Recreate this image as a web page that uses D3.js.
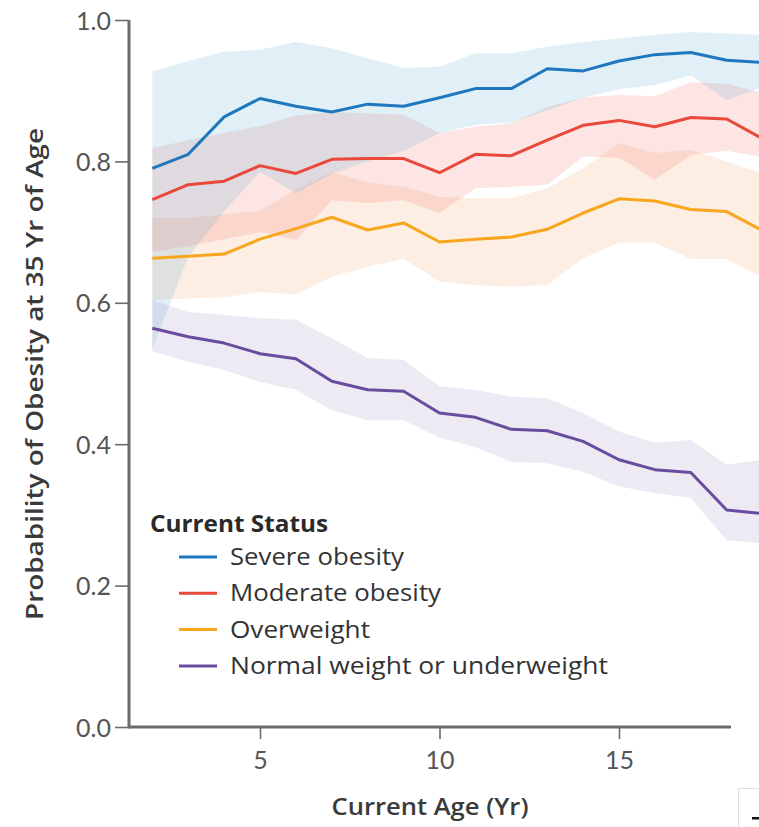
<!DOCTYPE html>
<html>
<head>
<meta charset="utf-8">
<script src="https://cdn.jsdelivr.net/npm/d3@7"></script>
<style>
  body { margin: 0; background: #fff; }
  #chart text { font-family: Lato, "Open Sans", sans-serif; }
  #chart text.wide { font-family: "Open Sans", Lato, sans-serif; }
</style>
</head>
<body>
<svg id="chart" width="759" height="827"></svg>
<script>
// ages on the x axis
const ages = [2, 3, 4, 5, 6, 7, 8, 9, 10, 11, 12, 13, 14, 15, 16, 17, 18, 19];

// severe obesity
const severe   = [0.790, 0.810, 0.863, 0.889, 0.878, 0.870, 0.881, 0.878, 0.890, 0.903, 0.903, 0.931, 0.928, 0.942, 0.951, 0.954, 0.943, 0.940];
const severeLo = [0.535, 0.665, 0.730, 0.785, 0.755, 0.783, 0.800, 0.815, 0.840, 0.852, 0.855, 0.872, 0.890, 0.902, 0.908, 0.922, 0.887, 0.905];
const severeHi = [0.927, 0.942, 0.955, 0.958, 0.969, 0.960, 0.946, 0.932, 0.934, 0.953, 0.953, 0.962, 0.969, 0.974, 0.979, 0.983, 0.981, 0.979];

// moderate obesity
const moderate   = [0.746, 0.767, 0.772, 0.794, 0.783, 0.803, 0.804, 0.804, 0.784, 0.810, 0.808, 0.830, 0.851, 0.858, 0.849, 0.862, 0.860, 0.832];
const moderateLo = [0.672, 0.680, 0.690, 0.700, 0.689, 0.745, 0.741, 0.745, 0.727, 0.762, 0.764, 0.767, 0.807, 0.805, 0.774, 0.809, 0.815, 0.806];
const moderateHi = [0.819, 0.830, 0.840, 0.850, 0.865, 0.870, 0.868, 0.866, 0.840, 0.849, 0.854, 0.877, 0.890, 0.894, 0.892, 0.912, 0.910, 0.897];

// overweight
const overweight   = [0.663, 0.666, 0.669, 0.690, 0.705, 0.721, 0.703, 0.713, 0.686, 0.690, 0.693, 0.704, 0.727, 0.747, 0.744, 0.732, 0.729, 0.702];
const overweightLo = [0.604, 0.606, 0.608, 0.615, 0.612, 0.637, 0.651, 0.662, 0.630, 0.625, 0.623, 0.625, 0.663, 0.685, 0.685, 0.662, 0.662, 0.635];
const overweightHi = [0.720, 0.720, 0.725, 0.730, 0.760, 0.785, 0.770, 0.764, 0.750, 0.748, 0.748, 0.762, 0.790, 0.826, 0.812, 0.816, 0.800, 0.783];

// normal weight or underweight
const normal   = [0.564, 0.552, 0.543, 0.528, 0.521, 0.489, 0.477, 0.475, 0.444, 0.438, 0.421, 0.419, 0.404, 0.378, 0.364, 0.360, 0.307, 0.302];
const normalLo = [0.531, 0.517, 0.505, 0.488, 0.477, 0.448, 0.434, 0.434, 0.409, 0.396, 0.375, 0.373, 0.361, 0.340, 0.331, 0.324, 0.264, 0.260];
const normalHi = [0.604, 0.587, 0.583, 0.578, 0.576, 0.550, 0.522, 0.519, 0.482, 0.477, 0.467, 0.465, 0.444, 0.418, 0.402, 0.406, 0.371, 0.378];

const xTicks = [5, 10, 15];
const yTicks = [0, 0.2, 0.4, 0.6, 0.8, 1.0];

const seriesNames = ["Severe obesity", "Moderate obesity", "Overweight", "Normal weight or underweight"];
const seriesColors = ["#1f77bd", "#e9483b", "#f7a61e", "#6a4c9e"];
const bandColors = ["#6baed6", "#e8483b", "#f6a26a", "#6a4fa0"];
const bandOpacity = [0.2, 0.14, 0.18, 0.12];

const series = [
  { mid: severe, lo: severeLo, hi: severeHi },
  { mid: moderate, lo: moderateLo, hi: moderateHi },
  { mid: overweight, lo: overweightLo, hi: overweightHi },
  { mid: normal, lo: normalLo, hi: normalHi },
];

const svg = d3.select("#chart");

const x = d3.scaleLinear().domain([1.35, 18.9]).range([129, 759]);
const y = d3.scaleLinear().domain([0, 1]).range([727, 20]);
const xAxisEnd = 18.12;

const axisColor = "#6b6b6b";
const labelColor = "#555";
const titleColor = "#3a3a3a";

// confidence bands, drawn back to front
const bandOrder = [3, 2, 1, 0];
const area = d3.area()
  .x((d) => x(d.age))
  .y0((d) => y(d.lo))
  .y1((d) => y(d.hi));

bandOrder.forEach((i) => {
  const s = series[i];
  const pts = ages.map((a, j) => ({ age: a, lo: s.lo[j], hi: s.hi[j] }));
  svg.append("path")
    .attr("d", area(pts))
    .attr("fill", bandColors[i])
    .attr("fill-opacity", bandOpacity[i]);
});

// lines
const line = d3.line()
  .x((d) => x(d.age))
  .y((d) => y(d.v));

bandOrder.forEach((i) => {
  const pts = ages.map((a, j) => ({ age: a, v: series[i].mid[j] }));
  svg.append("path")
    .attr("d", line(pts))
    .attr("fill", "none")
    .attr("stroke", seriesColors[i])
    .attr("stroke-width", 3)
    .attr("stroke-linejoin", "round");
});

// y axis
const yAxis = svg.append("g")
  .attr("transform", `translate(${x(1.35)},0)`)
  .call(d3.axisLeft(y).tickValues(yTicks).tickFormat(d3.format(".1f")).tickSize(14).tickPadding(4).tickSizeOuter(0));
yAxis.select(".domain").remove();
yAxis.selectAll(".tick line").attr("stroke", axisColor).attr("stroke-width", 1.6);
yAxis.selectAll(".tick text")
  .attr("fill", labelColor)
  .style("font-size", "25px")
  .attr("dy", "0.36em");

// x axis
const xAxis = svg.append("g")
  .attr("transform", `translate(0,${y(0)})`)
  .call(d3.axisBottom(x).tickValues(xTicks).tickSize(12).tickPadding(12).tickSizeOuter(0));
xAxis.select(".domain").remove();
xAxis.selectAll(".tick line").attr("stroke", axisColor).attr("stroke-width", 1.6);
xAxis.selectAll(".tick text")
  .attr("fill", labelColor)
  .style("font-size", "25px");

// axis lines
svg.append("line")
  .attr("x1", x(1.35)).attr("x2", x(1.35))
  .attr("y1", y(1)).attr("y2", y(0) + 1.5)
  .attr("stroke", axisColor).attr("stroke-width", 3);
svg.append("line")
  .attr("x1", x(1.35)).attr("x2", x(xAxisEnd))
  .attr("y1", y(0)).attr("y2", y(0))
  .attr("stroke", axisColor).attr("stroke-width", 3);

// stretch a text to the width it has in the picture
function fit(sel, w) {
  return sel.attr("textLength", w).attr("lengthAdjust", "spacingAndGlyphs");
}

// axis titles
fit(svg.append("text")
  .attr("class", "wide")
  .attr("x", 430).attr("y", 815)
  .attr("text-anchor", "middle")
  .attr("fill", titleColor)
  .style("font-size", "24px").style("font-weight", "600")
  .text("Current Age (Yr)"), 197);

fit(svg.append("text")
  .attr("class", "wide")
  .attr("transform", "translate(43,374) rotate(-90)")
  .attr("text-anchor", "middle")
  .attr("fill", titleColor)
  .style("font-size", "24px").style("font-weight", "600")
  .text("Probability of Obesity at 35 Yr of Age"), 492);

// legend
const legend = svg.append("g");
fit(legend.append("text")
  .attr("class", "wide")
  .attr("x", 150).attr("y", 532)
  .attr("fill", "#2a2a2a")
  .style("font-size", "24px").style("font-weight", "bold")
  .text("Current Status"), 178);

const legendWidths = [174, 211, 140, 378];
seriesNames.forEach((name, i) => {
  const cy = 557 + i * 36.3;
  legend.append("line")
    .attr("x1", 179).attr("x2", 217)
    .attr("y1", cy).attr("y2", cy)
    .attr("stroke", seriesColors[i]).attr("stroke-width", 3);
  fit(legend.append("text")
    .attr("class", "wide")
    .attr("x", 230).attr("y", cy + 8)
    .attr("fill", "#333")
    .style("font-size", "24px")
    .text(name), legendWidths[i]);
});

// clipped corner box at bottom right
svg.append("rect")
  .attr("x", 738.5).attr("y", 788.5)
  .attr("width", 40).attr("height", 60)
  .attr("fill", "#fff").attr("stroke", "#ddd").attr("stroke-width", 1);
svg.append("rect")
  .attr("x", 752).attr("y", 817)
  .attr("width", 8).attr("height", 2.5)
  .attr("fill", "#111");
</script>
</body>
</html>
